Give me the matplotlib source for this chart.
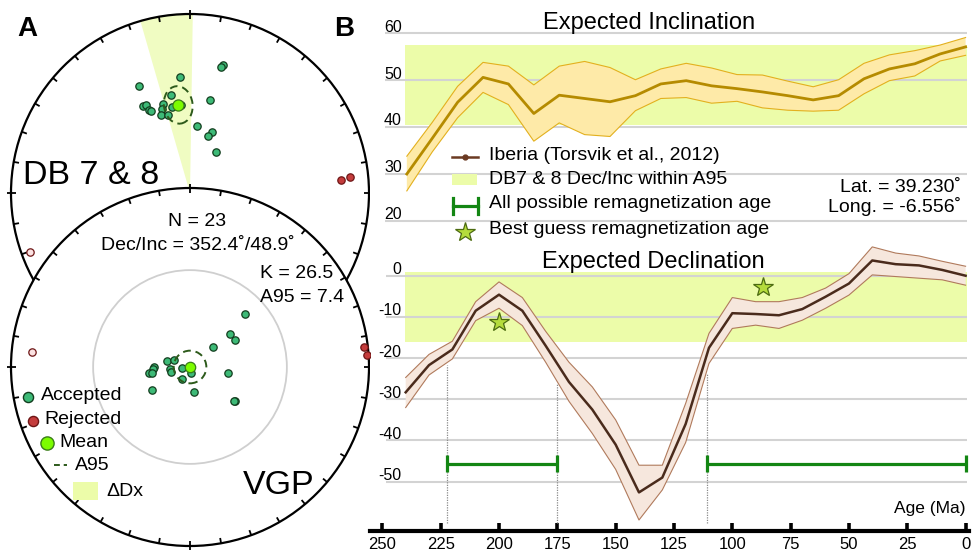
import numpy as np
import matplotlib
matplotlib.use("Agg")
import matplotlib.pyplot as plt
from matplotlib.patches import Circle, Ellipse, Wedge, Rectangle
from matplotlib.collections import LineCollection

plt.rcParams['font.family'] = ['Liberation Sans', 'DejaVu Sans']

# ------------------------------------------------------------------ data
mean_dec, mean_inc = 352.4, 48.9
a95 = 7.4
k_val = 26.5
n_sites = 23
delta_dx = 8.5
delta_ix = 8.5
site_lat, site_lon = 39.230, -6.556

acc_dec = [14.3, 14.0, 355.0, 334.7, 348.8, 12.2, 331.7, 333.6, 333.9, 334.5,
           343.2, 341.8, 339.8, 344.3, 348.1, 5.7, 19.6, 17.5, 32.1, 354.0]
acc_inc = [27.3, 28.3, 35.3, 34.1, 43.6, 45.8, 43.9, 44.4, 47.2, 48.2,
           47.0, 49.1, 51.9, 52.9, 49.3, 59.0, 60.2, 62.9, 67.8, 49.0]
rej_dec = [85.0, 84.3, 249.8]
rej_inc = [16.5, 11.0, -5.2]

vgp_az = [46.1, 50.5, 59.0, 48.2, 284.4, 294.0, 269.5, 266.9, 261.8, 261.1,
          263.4, 255.9, 260.8, 173.0, 213.7, 98.9, 239.0, 171.0, 127.1, 127.7]
vgp_dist = [34.9, 23.5, 23.8, 13.7, 10.85, 7.74, 16.26, 16.87, 19.05, 17.5,
            9.07, 8.69, 3.65, 2.6, 6.5, 17.5, 20.2, 11.55, 25.6, 25.4]
vgp_rej_az = [83.5, 86.1, 275.4]
vgp_rej_dist = [87.5, 89.0, 77.7]
vgp_rej_upper = [False, False, True]

dec_age = [240, 230, 220, 210, 200, 190, 180, 170, 160, 150, 140, 130, 120,
           110, 100, 90, 80, 70, 60, 50, 40, 30, 20, 10, 0]
dec_mean = [-28.3, -21.7, -17.9, -8.5, -4.6, -8.5, -17.0, -25.8, -32.5, -41.0,
            -52.6, -49.0, -36.0, -17.5, -9.1, -9.3, -9.6, -8.1, -5.1, -1.9,
            3.7, 2.8, 2.5, 1.4, 0.0]
dec_upper = [-24.7, -19.1, -15.9, -6.3, -1.5, -5.3, -13.5, -21.0, -27.0, -35.0,
             -46.0, -46.0, -31.0, -14.0, -5.3, -6.3, -6.3, -5.3, -3.0, 0.5,
             7.0, 5.5, 4.8, 3.5, 2.3]
dec_lower = [-32.0, -24.1, -20.2, -10.9, -7.9, -12.1, -21.0, -30.5, -38.3, -47.0,
             -59.3, -52.0, -40.5, -21.3, -12.8, -12.0, -12.8, -10.8, -7.9, -4.7,
             0.2, -0.2, -0.6, -1.0, -2.3]

inc_age = [220, 210, 200, 190, 180, 170, 160, 150, 140, 130, 120, 110, 100,
           90, 80, 70, 60, 50, 40, 30, 20, 10, 0]
inc_mean = [30.0, 37.6, 45.3, 50.6, 49.2, 42.9, 46.8, 46.1, 45.4, 46.7, 49.2,
            49.9, 48.8, 48.2, 47.5, 46.7, 45.8, 46.7, 50.3, 52.4, 53.5, 55.6, 57.1]
inc_upper = [33.8, 41.0, 48.7, 53.8, 53.0, 49.0, 53.0, 54.0, 52.7, 50.1, 52.4,
             53.6, 52.6, 51.2, 51.1, 49.8, 48.6, 50.1, 53.6, 55.4, 56.3, 57.5, 59.1]
inc_lower = [26.4, 34.7, 42.0, 47.4, 44.8, 37.0, 40.9, 38.4, 38.0, 43.5, 46.1,
             46.3, 45.1, 45.5, 44.1, 43.6, 43.4, 43.6, 47.1, 49.9, 50.9, 54.1, 55.3]

remag_ranges = [(222.4, 175.3), (111.0, 0.0)]
best_age = [200, 87]
best_dec = [-11.2, -2.8]

inc_ticks = [60, 50, 40, 30, 20]
dec_ticks = [0, -10, -20, -30, -40, -50]
age_ticks = [250, 225, 200, 175, 150, 125, 100, 75, 50, 25, 0]

# ------------------------------------------------------------------ colours
BAND = '#ecfca9'
ACC_FC, ACC_EC = '#3dba77', '#123d1e'
REJ_FC, REJ_EC = '#c43c3c', '#6d1515'
MEAN_FC, MEAN_EC = '#7cfc00', '#3a7d1a'
A95_C = '#2d5a1b'
GREEN = '#138613'
STAR_FC, STAR_EC = '#b5dc3c', '#4c6b12'

W, H = 978, 550
fig = plt.figure(figsize=(W / 100, H / 100), dpi=100)


def fax(x0, y0, x1, y1):
    return [x0 / W, 1 - y1 / H, (x1 - x0) / W, (y1 - y0) / H]


# ================================================================== panel A
R = 179.0
cxp, cyp_top, cyp_bot = 190.0, 193.0, 367.0
ax_a = fig.add_axes(fax(0, 0, 370, 550))
ax_a.set_xlim((0 - cxp) / R, (370 - cxp) / R)
ax_a.set_ylim((cyp_top - 550) / R, cyp_top / R)
ax_a.axis('off')
bot_c = (0.0, -(cyp_bot - cyp_top) / R)


def ea(dec, inc):
    d = np.radians(np.asarray(dec, float))
    i = np.radians(np.abs(np.asarray(inc, float)))
    r = np.sqrt(1 - np.sin(i))
    return r * np.sin(d), r * np.cos(d)


def net_ticks(center, z):
    segs = []
    for d in range(0, 360, 10):
        t = np.radians(d)
        r0 = 1 - 0.03
        r1 = 1.02 if d % 90 == 0 else 1.0
        segs.append([(center[0] + r0 * np.sin(t), center[1] + r0 * np.cos(t)),
                     (center[0] + r1 * np.sin(t), center[1] + r1 * np.cos(t))])
    ax_a.add_collection(LineCollection(segs, colors='black', linewidths=1.3, zorder=z))


# top net
ax_a.add_patch(Circle((0, 0), 1, fc='white', ec='none', zorder=0.5))
ax_a.add_patch(Wedge((0, 0), 1, 90 - (mean_dec + delta_dx - 360), 90 - (mean_dec - delta_dx),
                     fc='#f0fcc2', ec='none', zorder=1))
ax_a.add_patch(Circle((0, 0), 1, fc='none', ec='black', lw=1.6, zorder=2))
net_ticks((0, 0), 2)
x, y = ea(acc_dec, acc_inc)
ax_a.plot(x, y, 'o', ms=5.3, mfc=ACC_FC, mec=ACC_EC, mew=0.9, zorder=3)
for d, i in zip(rej_dec, rej_inc):
    xx, yy = ea(d, i)
    fc = '#fbe2e2' if i < 0 else REJ_FC
    ax_a.plot(xx, yy, 'o', ms=5.3, mfc=fc, mec=REJ_EC, mew=0.9, zorder=3)
mx, my = ea(mean_dec, mean_inc)
ax_a.add_patch(Ellipse((mx, my), 2 * 0.080, 2 * 0.105, angle=-mean_dec + 360,
                       fc='none', ec=A95_C, lw=1.4, ls=(0, (4, 2.5)), zorder=3))
ax_a.plot(mx, my, 'o', ms=8, mfc=MEAN_FC, mec=MEAN_EC, mew=0.9, zorder=4)

# bottom (VGP) net
ax_a.add_patch(Circle(bot_c, 1, fc='white', ec='none', zorder=5))
ax_a.add_patch(Circle(bot_c, 1, fc='none', ec='black', lw=1.6, zorder=6))
ax_a.add_patch(Circle(bot_c, np.sqrt(2) * np.sin(np.radians(45 / 2)), fc='none',
                      ec='#cfcfcf', lw=1.3, zorder=6))
net_ticks(bot_c, 6)


def vgp_xy(az, dist):
    a = np.radians(np.asarray(az, float))
    r = np.sqrt(2) * np.sin(np.radians(np.asarray(dist, float)) / 2)
    return bot_c[0] + r * np.sin(a), bot_c[1] + r * np.cos(a)


vx, vy = vgp_xy(vgp_az, vgp_dist)
ax_a.plot(vx, vy, 'o', ms=5.3, mfc=ACC_FC, mec=ACC_EC, mew=0.9, zorder=7)
for az, ds, up in zip(vgp_rej_az, vgp_rej_dist, vgp_rej_upper):
    xx, yy = vgp_xy(az, ds)
    ax_a.plot(xx, yy, 'o', ms=5.3, mfc='#fbe2e2' if up else REJ_FC, mec=REJ_EC,
              mew=0.9, zorder=7)
ax_a.add_patch(Circle(bot_c, np.sqrt(2) * np.sin(np.radians(a95) / 2), fc='none',
                      ec=A95_C, lw=1.4, ls=(0, (4, 2.5)), zorder=7))
ax_a.plot(bot_c[0], bot_c[1], 'o', ms=7.5, mfc=MEAN_FC, mec=MEAN_EC, mew=0.9, zorder=8)

# ================================================================== panel B
# declination axes
ax_dec = fig.add_axes(fax(370, 240, 969, 531))
ax_dec.patch.set_visible(False)
ax_dec.set_xlim(255.3, -1.46)
ax_dec.set_ylim(-61.97, 8.67)
for s in ['left', 'right', 'top']:
    ax_dec.spines[s].set_visible(False)
ax_dec.spines['bottom'].set_linewidth(3)
ax_dec.set_xticks(age_ticks)
ax_dec.set_xticklabels([str(a) for a in age_ticks])
ax_dec.tick_params(axis='x', direction='in', length=5.5, width=2.6, labelsize=12, pad=4)
ax_dec.set_yticks([])

dmean = mean_dec - 360
ax_dec.fill_between([240.3, -0.6], dmean - delta_dx, dmean + delta_dx, color=BAND, lw=0, zorder=0.5)
ax_dec.hlines(dec_ticks, 248.4, -0.6, colors='#d3d3d3', lw=1.5, zorder=1)
ytr = ax_dec.get_yaxis_transform()
for v in dec_ticks:
    ax_dec.text(0.052, v + 0.35, str(v), transform=ytr, ha='right', va='baseline', fontsize=11.5)
ax_dec.fill_between(dec_age, dec_lower, dec_upper, fc='#f6e7dd', lw=0, zorder=2)
ax_dec.plot(dec_age, dec_upper, color='#b07a5c', lw=0.8, zorder=3)
ax_dec.plot(dec_age, dec_lower, color='#b07a5c', lw=0.8, zorder=3)
ax_dec.plot(dec_age, dec_mean, color='#4a2b1c', lw=1.8, zorder=4)

for a1, a2 in remag_ranges:
    for a in (a1, a2):
        if a > 0.5:
            y0 = np.interp(a, dec_age[::-1], dec_lower[::-1])
            ax_dec.vlines(a, -60.1, y0 - 0.5, colors='#8a8a8a', linestyles=(0, (1, 1)), lw=0.9, zorder=2)
    ax_dec.hlines(-45.6, a1, a2, colors=GREEN, lw=2.3, zorder=5)
    ax_dec.vlines([a1, a2], -45.6 - 2.15, -45.6 + 2.15, colors=GREEN, lw=2.3, zorder=5)
ax_dec.plot(best_age, best_dec, '*', ms=15, mfc=STAR_FC, mec=STAR_EC, mew=0.9, zorder=6, ls='none')

# inclination axes
ax_inc = fig.add_axes(fax(370, 15, 969, 250))
ax_inc.patch.set_visible(False)
ax_inc.set_xlim(234.5, -1.34)
ax_inc.set_ylim(13.8, 63.9)
ax_inc.axis('off')
ax_inc.fill_between([220.7, -0.55], mean_inc - delta_ix, mean_inc + delta_ix, color=BAND, lw=0, zorder=0.5)
ax_inc.hlines(inc_ticks, 228.6, -0.55, colors='#d3d3d3', lw=1.5, zorder=1)
ytr2 = ax_inc.get_yaxis_transform()
for v in inc_ticks:
    ax_inc.text(0.053, v + 0.35, str(v), transform=ytr2, ha='right', va='baseline', fontsize=11.5)
ax_inc.fill_between(inc_age, inc_lower, inc_upper, fc='#feeaa8', lw=0, zorder=2)
ax_inc.plot(inc_age, inc_upper, color='#e3b01e', lw=0.8, zorder=3)
ax_inc.plot(inc_age, inc_lower, color='#e3b01e', lw=0.8, zorder=3)
ax_inc.plot(inc_age, inc_mean, color='#b58b00', lw=2.0, zorder=4)

# ================================================================== overlay (texts, legends)
ov = fig.add_axes([0, 0, 1, 1], zorder=10)
ov.patch.set_visible(False)
ov.set_xlim(0, W)
ov.set_ylim(H, 0)
ov.axis('off')

ov.text(27.5, 29, 'A', fontsize=20, fontweight='bold', ha='center', va='center')
ov.text(344, 29, 'B', fontsize=20, fontweight='bold', ha='center', va='center')
ov.text(23, 175, 'DB 7 & 8', fontsize=24.5, ha='left', va='center')
ov.text(243, 485, 'VGP', fontsize=24.5, ha='left', va='center')
ov.text(197, 222, f'N = {n_sites}', fontsize=14, ha='center', va='center')
ov.text(198, 246, f'Dec/Inc = {mean_dec:.1f}˚/{mean_inc:.1f}˚', fontsize=14, ha='center', va='center')
ov.text(260, 273, f'K = {k_val:.1f}', fontsize=14, ha='left', va='center')
ov.text(260, 297, f'A95 = {a95:.1f}', fontsize=14, ha='left', va='center')

# panel A legend
ov.plot(27.7, 397, 'o', ms=7.3, mfc=ACC_FC, mec=ACC_EC, mew=1)
ov.text(40.5, 396, 'Accepted', fontsize=14, ha='left', va='center')
ov.plot(32.7, 420.5, 'o', ms=7.3, mfc=REJ_FC, mec=REJ_EC, mew=1)
ov.text(44, 419.5, 'Rejected', fontsize=14, ha='left', va='center')
ov.plot(46.7, 443, 'o', ms=9.5, mfc=MEAN_FC, mec=MEAN_EC, mew=1)
ov.text(59, 442.5, 'Mean', fontsize=14, ha='left', va='center')
ov.plot([54, 67], [465, 465], color=A95_C, lw=1.4, ls=(0, (3, 2)))
ov.text(74.5, 465, 'A95', fontsize=14, ha='left', va='center')
ov.add_patch(Rectangle((73, 482), 25, 18, fc=BAND, ec='none'))
ov.text(106, 491, 'ΔDx', fontsize=14, ha='left', va='center')

# panel B texts
ov.text(648.6, 22.7, 'Expected Inclination', fontsize=17, ha='center', va='center')
ov.text(653.5, 261.7, 'Expected Declination', fontsize=17, ha='center', va='center')
ov.text(965, 508, 'Age (Ma)', fontsize=12.5, ha='right', va='center')
ov.text(961, 188, f'Lat. = {site_lat:.3f}˚', fontsize=14, ha='right', va='center')
ov.text(961, 207, f'Long. = {site_lon:.3f}˚', fontsize=14, ha='right', va='center')

# panel B legend
ov.plot([451.7, 478.3], [156.7, 156.7], color='#6b3a22', lw=1.8)
ov.plot(465, 156.7, 'o', ms=3.5, color='#6b3a22')
ov.text(489, 155.5, 'Iberia (Torsvik et al., 2012)', fontsize=14, ha='left', va='center')
ov.add_patch(Rectangle((452, 174), 25, 10.5, fc=BAND, ec='none'))
ov.text(489, 179, 'DB7 & 8 Dec/Inc within A95', fontsize=14, ha='left', va='center')
ov.plot([452.5, 477.5], [206, 206], color=GREEN, lw=2.3)
ov.plot([452.5, 452.5], [198, 214], color=GREEN, lw=2.3)
ov.plot([477.5, 477.5], [198, 214], color=GREEN, lw=2.3)
ov.text(489, 204, 'All possible remagnetization age', fontsize=14, ha='left', va='center')
ov.plot(465, 231.5, '*', ms=15, mfc=STAR_FC, mec=STAR_EC, mew=0.9)
ov.text(489, 229.5, 'Best guess remagnetization age', fontsize=14, ha='left', va='center')

fig.savefig('out.png', dpi=100)
